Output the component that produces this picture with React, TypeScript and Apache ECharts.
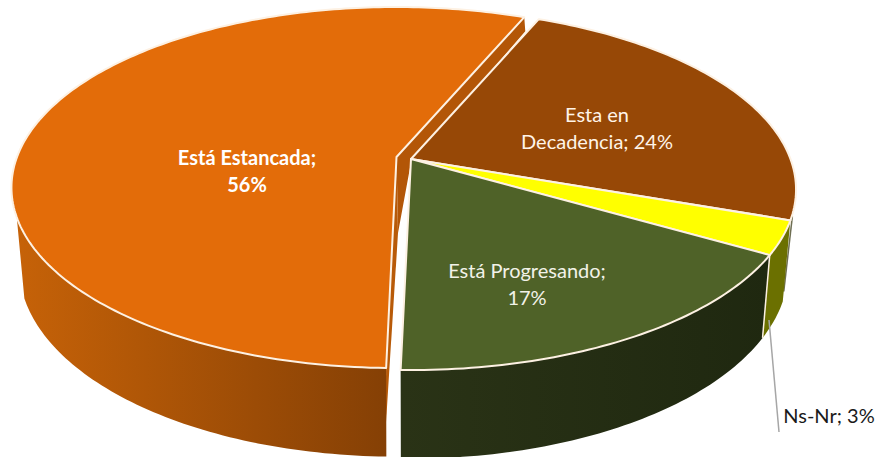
import React, { useEffect, useRef } from "react";
import * as echarts from "echarts";

const categories = ["Está Estancada", "Esta en Decadencia", "Ns-Nr", "Está Progresando"];
const values = [56, 24, 3, 17];
const labelLines = ["Está Estancada;\n56%", "Esta en\nDecadencia; 24%", "Ns-Nr; 3%", "Está Progresando;\n17%"];

const faceColors = ["#E36C09", "#974806", "#FFFF00", "#4F6228"];
const sideStops = [
  ["#C66208", "#854005"],
  ["#6E6E52", "#6E6E52"],
  ["#6B7000", "#6B7000"],
  ["#2A3316", "#1F2810"],
];
const labelColors = ["#FFFFFF", "#FFF4E8", "#1A1A1A", "#F2F2E8"];
const labelFonts = ["bold 20px Lato", "20px Lato", "20px Lato", "20px Lato"];
const labelPos = [[247, 170], [597, 127], [829, 415], [527, 283]];
const apexes = [[396.5, 157], [411, 159], [411, 159], [411, 159]];

const START = 181.3;
const K = 0.169, A = 175.4, C = 379.5;
const DEPTH = 78, YS = 1.05, XS = 0.98;
const RIM = "#FDF1E3";

function rim(theta: number, apex: number[], lower = false) {
  const r = (theta * Math.PI) / 180;
  const c = Math.sin(r), s = -Math.cos(r);
  const d = 1 - K * s;
  const x = (C * c) / d, y = (A * s) / d;
  return lower
    ? [apex[0] + XS * x, apex[1] + DEPTH + YS * y]
    : [apex[0] + x, apex[1] + y];
}

function arc(a: number, b: number, apex: number[], lower = false) {
  const pts: number[][] = [];
  const n = Math.max(2, Math.ceil(Math.abs(b - a)));
  for (let i = 0; i <= n; i++) pts.push(rim(a + ((b - a) * i) / n, apex, lower));
  return pts;
}

function renderItem(params: any, api: any) {
  const i = params.dataIndex;
  const total = values.reduce((p, v) => p + v, 0);
  let before = 0;
  for (let j = 0; j < i; j++) before += values[j];
  const a0 = START + (before / total) * 360;
  const a1 = a0 + (api.value(0) / total) * 360;
  const apex = apexes[i];
  const children: any[] = [];
  const grad = new echarts.graphic.LinearGradient(0, 0, 1, 0, [
    { offset: 0, color: sideStops[i][0] },
    { offset: 1, color: sideStops[i][1] },
  ]);

  if (i === 0) {
    const p = rim(a1, apex);
    children.push({
      type: "polygon",
      shape: { points: [apex, p, [p[0] + 1, p[1] + 14], [apex[0] + 14, apex[1] + 8], [apex[0] + 1.5, apex[1] + 76]] },
      style: { fill: "#B35607" },
    });
    const q = rim(a0, apex);
    children.push({
      type: "polygon",
      shape: { points: [apex, [apex[0] + 1.5, apex[1] + 76], [q[0] - 1, q[1] + 68], q] },
      style: { fill: "#B85A08" },
    });
    const top = arc(a0, 251, apex);
    const low = arc(251, a0, apex, true);
    children.push({ type: "polygon", shape: { points: top.concat(low) }, style: { fill: grad } });
  } else if (i === 1) {
    const t = rim(a1, apex);
    const b = rim(a1, apex, true);
    children.push({
      type: "line",
      shape: { x1: t[0] + 2, y1: t[1] - 4, x2: b[0] + 1, y2: b[1] - 10 },
      style: { stroke: sideStops[1][0], lineWidth: 1.5 },
    });
  } else {
    const top = arc(a0, a1, apex);
    const low = arc(a1, a0, apex, true);
    children.push({ type: "polygon", shape: { points: top.concat(low) }, style: { fill: grad } });
    if (i === 3) {
      const t = rim(a0, apex);
      const b = rim(a0, apex, true);
      children.push({
        type: "line",
        shape: { x1: t[0], y1: t[1], x2: b[0], y2: b[1] },
        style: { stroke: RIM, lineWidth: 1.5 },
      });
    }
  }

  children.push({
    type: "polygon",
    shape: { points: [apex].concat(arc(a0, a1, apex)) },
    style: { fill: faceColors[i], stroke: RIM, lineWidth: 2, lineJoin: "round" },
  });

  if (i === 2) {
    children.push({
      type: "line",
      shape: { x1: 769, y1: 320, x2: 779, y2: 432 },
      style: { stroke: "#A6A6A6", lineWidth: 1.5 },
    });
  }

  children.push({
    type: "text",
    style: {
      text: labelLines[i],
      x: labelPos[i][0],
      y: labelPos[i][1],
      fill: labelColors[i],
      font: labelFonts[i],
      align: "center",
      verticalAlign: "middle",
      lineHeight: 27,
    },
  });
  return { type: "group", children };
}

export default function App() {
  const ref = useRef<HTMLDivElement>(null);
  useEffect(() => {
    const chart = echarts.init(ref.current!, null, { renderer: "svg" });
    chart.setOption({
      animation: false,
      backgroundColor: "#FFFFFF",
      series: [
        {
          type: "custom",
          coordinateSystem: "none",
          silent: true,
          clip: false,
          renderItem,
          data: categories.map((name, i) => ({ name, value: [values[i]] })),
        },
      ],
    });
    return () => chart.dispose();
  }, []);
  return <div ref={ref} style={{ position: "absolute", left: 0, top: 0, width: 878, height: 457 }} />;
}
